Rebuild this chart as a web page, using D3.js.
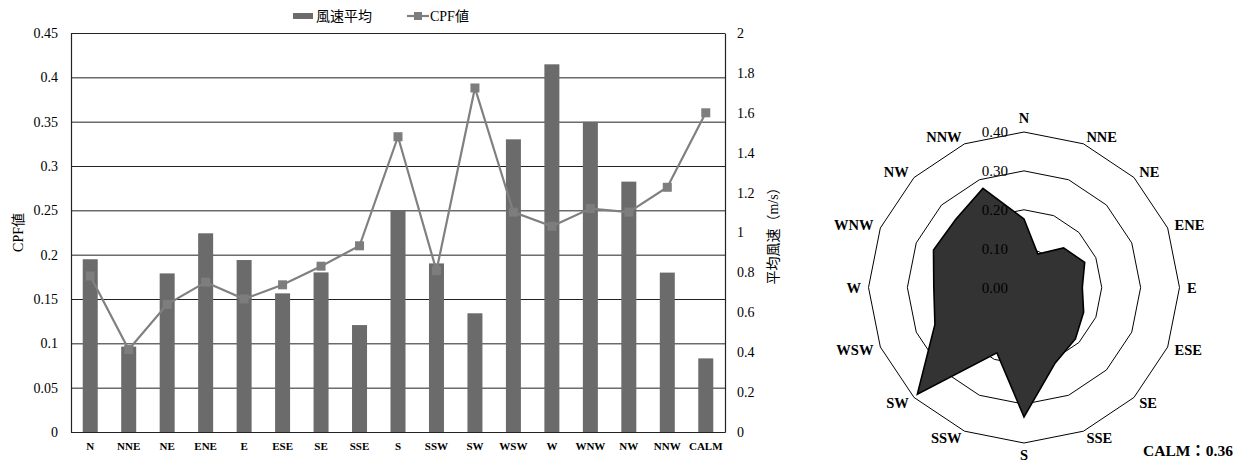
<!DOCTYPE html>
<html>
<head>
<meta charset="utf-8">
<script src="https://cdn.jsdelivr.net/npm/d3@7/dist/d3.min.js"></script>
<style>
  html, body { margin: 0; padding: 0; background: #fff; }
  svg { display: block; }
  text { font-family: "Liberation Serif", "Noto Sans CJK JP", serif; fill: #000; }
</style>
</head>
<body>
<svg id="chart" width="1245" height="463"></svg>
<script>
// Wind direction categories (16 compass points + calm)
const directions = ["N","NNE","NE","ENE","E","ESE","SE","SSE","S","SSW","SW","WSW","W","WNW","NW","NNW"];
const categories = directions.concat(["CALM"]);

// Mean wind speed per direction (m/s)
const windSpeed = [0.866, 0.428, 0.795, 0.996, 0.862, 0.695, 0.800, 0.536, 1.108,
                   0.845, 0.595, 1.467, 1.843, 1.555, 1.255, 0.799, 0.369];

// CPF value per direction
const cpf = [0.176, 0.093, 0.144, 0.169, 0.150, 0.166, 0.187, 0.210, 0.333,
             0.182, 0.388, 0.248, 0.232, 0.252, 0.248, 0.276, 0.36];

// Axis ticks
const leftTicks  = [0, 0.05, 0.1, 0.15, 0.2, 0.25, 0.3, 0.35, 0.4, 0.45];
const rightTicks = [0, 0.2, 0.4, 0.6, 0.8, 1, 1.2, 1.4, 1.6, 1.8, 2];
const radarTicks = [0.0, 0.1, 0.2, 0.3, 0.4];

const svg = d3.select("#chart");
const trim = d3.format("~g");

// ---------- Combined bar + line chart ----------
const plot = { left: 71, right: 725, top: 33, bottom: 432 };

const x = d3.scaleBand().domain(categories).range([plot.left, plot.right]).padding(0);
const yL = d3.scaleLinear().domain([0, 0.45]).range([plot.bottom, plot.top]);
const yR = d3.scaleLinear().domain([0, 2]).range([plot.bottom, plot.top]);
const barW = x.bandwidth() * 0.39;

// horizontal gridlines
const grid = svg.append("g").attr("transform", `translate(${plot.left},0)`)
  .call(d3.axisLeft(yL).tickValues(leftTicks).tickSize(-(plot.right - plot.left)).tickFormat(""));
grid.select(".domain").remove();
grid.selectAll("line").attr("stroke", "#222").attr("stroke-width", 1);

// wind speed bars
svg.append("g").selectAll("rect").data(categories).join("rect")
  .attr("x", d => x(d) + (x.bandwidth() - barW) / 2)
  .attr("width", barW)
  .attr("y", (d, i) => yR(windSpeed[i]))
  .attr("height", (d, i) => yR(0) - yR(windSpeed[i]))
  .attr("fill", "#6b6b6b");

// CPF line with square markers
const cx = d => x(d) + x.bandwidth() / 2;
svg.append("path")
  .datum(categories)
  .attr("fill", "none")
  .attr("stroke", "#808080")
  .attr("stroke-width", 2.2)
  .attr("d", d3.line().x(d => cx(d)).y((d, i) => yL(cpf[i])));

const mk = 9;
svg.append("g").selectAll("rect").data(categories).join("rect")
  .attr("x", d => cx(d) - mk / 2)
  .attr("y", (d, i) => yL(cpf[i]) - mk / 2)
  .attr("width", mk).attr("height", mk)
  .attr("fill", "#7d7d7d");

// axes
const axL = svg.append("g").attr("transform", `translate(${plot.left},0)`)
  .call(d3.axisLeft(yL).tickValues(leftTicks).tickFormat(trim).tickSize(0).tickPadding(13));
const axR = svg.append("g").attr("transform", `translate(${plot.right},0)`)
  .call(d3.axisRight(yR).tickValues(rightTicks).tickFormat(trim).tickSize(0).tickPadding(12));
const axB = svg.append("g").attr("transform", `translate(0,${plot.bottom})`)
  .call(d3.axisBottom(x).tickSize(0).tickPadding(10));

[axL, axR, axB].forEach(a => {
  a.attr("font-family", null).attr("font-size", null);
  a.select(".domain").attr("stroke", "#222").attr("stroke-width", 1.2);
  a.selectAll("text").attr("fill", "#000");
});
axL.selectAll("text").attr("font-size", 14);
axR.selectAll("text").attr("font-size", 14);
axB.selectAll("text").attr("font-size", 11).attr("font-weight", "bold");

// axis titles
svg.append("text")
  .attr("transform", `translate(18,${(plot.top + plot.bottom) / 2}) rotate(-90)`)
  .attr("text-anchor", "middle").attr("dominant-baseline", "central")
  .attr("font-size", 14).text("CPF値");
svg.append("text")
  .attr("transform", `translate(773,${(plot.top + plot.bottom) / 2}) rotate(-90)`)
  .attr("text-anchor", "middle").attr("dominant-baseline", "central")
  .attr("font-size", 14).text("平均風速（m/s）");

// legend
const lg = svg.append("g");
lg.append("rect").attr("x", 293).attr("y", 13).attr("width", 20).attr("height", 6).attr("fill", "#6b6b6b");
lg.append("text").attr("x", 316).attr("y", 16).attr("dominant-baseline", "central")
  .attr("font-size", 14).attr("font-family", "'Noto Sans CJK JP', sans-serif").attr("fill", "#222").text("風速平均");
lg.append("line").attr("x1", 407).attr("x2", 429).attr("y1", 16).attr("y2", 16)
  .attr("stroke", "#808080").attr("stroke-width", 2.2);
lg.append("rect").attr("x", 414).attr("y", 12).attr("width", 8).attr("height", 8).attr("fill", "#7d7d7d");
lg.append("text").attr("x", 430).attr("y", 16).attr("dominant-baseline", "central")
  .attr("font-size", 14).text("CPF値");

// ---------- Radar chart of CPF by direction ----------
const rc = { x: 1024, y: 287.5 };
const r = d3.scaleLinear().domain([0, 0.4]).range([0, 155.5]);
const ang = d3.scalePoint().domain(directions.concat(["_end"])).range([0, 2 * Math.PI]);

const radar = svg.append("g").attr("transform", `translate(${rc.x},${rc.y})`);
const ring = d3.lineRadial().curve(d3.curveLinearClosed);

// concentric 16-gon rings
radar.append("g").selectAll("path").data(radarTicks.filter(t => t > 0)).join("path")
  .attr("d", t => ring(directions.map(d => [ang(d), r(t)])))
  .attr("fill", "none").attr("stroke", "#000").attr("stroke-width", 1);

// CPF polygon
radar.append("path")
  .attr("d", ring(directions.map((d, i) => [ang(d), r(cpf[i])])))
  .attr("fill", "#333").attr("stroke", "#000").attr("stroke-width", 1.6)
  .attr("stroke-linejoin", "miter");

// ring value labels
radar.append("g").selectAll("text").data(radarTicks).join("text")
  .attr("x", -16).attr("y", t => -r(t))
  .attr("text-anchor", "end").attr("dominant-baseline", "central")
  .attr("font-size", 15).attr("fill", "#000")
  .text(d3.format(".2f"));

// direction labels
radar.append("g").selectAll("text").data(directions).join("text")
  .each(function(d) {
    const a = ang(d), s = Math.sin(a), c = Math.cos(a);
    const vertical = Math.abs(s) < 0.1;
    const rr = vertical ? (c > 0 ? 170 : 167) : 163;
    d3.select(this)
      .attr("x", rr * s).attr("y", -rr * c)
      .attr("text-anchor", vertical ? "middle" : (s > 0 ? "start" : "end"));
  })
  .attr("dominant-baseline", "central")
  .attr("font-size", 14.5).attr("font-weight", "bold")
  .text(d => d);

// calm value
svg.append("text")
  .attr("x", 1233).attr("y", 450)
  .attr("text-anchor", "end").attr("dominant-baseline", "central")
  .attr("font-size", 15.5).attr("font-weight", "bold")
  .text(`CALM：${d3.format(".2f")(cpf[cpf.length - 1])}`);
</script>
</body>
</html>
